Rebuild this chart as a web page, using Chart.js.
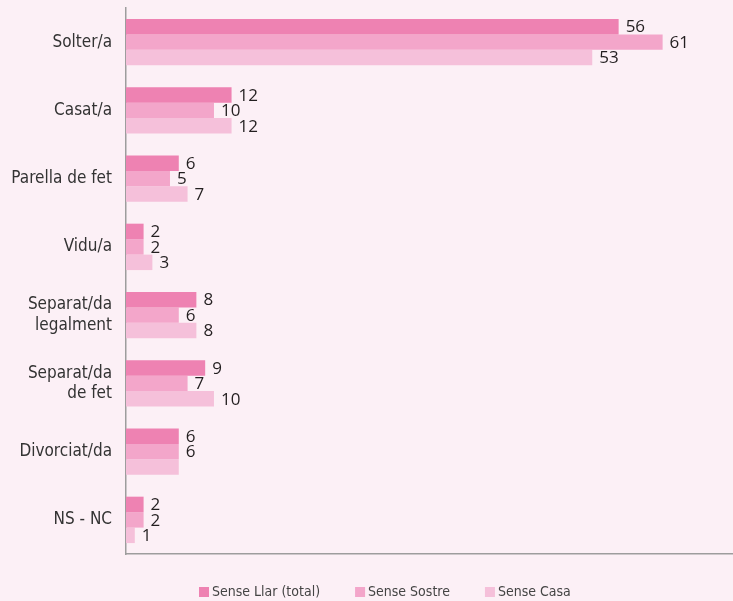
<!DOCTYPE html>
<html>
<head>
<meta charset="utf-8">
<script src="https://cdn.jsdelivr.net/npm/chart.js@4/dist/chart.umd.min.js"></script>
<style>
  html, body { margin: 0; padding: 0; background: #fcf0f6; }
  #wrap { width: 733px; height: 601px; position: relative; }
</style>
</head>
<body>
<div id="wrap"><canvas id="estatcivil"></canvas></div>
<script>
var categories = ['Solter/a', 'Casat/a', 'Parella de fet', 'Vidu/a', ['Separat/da', 'legalment'], ['Separat/da', 'de fet'], 'Divorciat/da', 'NS - NC'];
var seriesNames = ['Sense Llar (total)', 'Sense Sostre', 'Sense Casa'];
var senseLlar = [56, 12, 6, 2, 8, 9, 6, 2];
var senseSostre = [61, 10, 5, 2, 6, 7, 6, 2];
var senseCasa = [53, 12, 7, 3, 8, 10, 6, 1];
var colors = ['#ee82b2', '#f3a6ca', '#f5c0da'];
// the source leaves this one value without its number
var hiddenLabels = ['2-6'];

var fontNarrow = '"Liberation Sans Narrow", "DejaVu Sans Condensed", sans-serif';

var labelPlugin = {
    id: 'valueLabels',
    afterDatasetsDraw: function(chart) {
        var ctx = chart.ctx;
        ctx.save();
        ctx.font = '17px "Open Sans", sans-serif';
        ctx.fillStyle = '#231f20';
        ctx.textBaseline = 'middle';
        chart.data.datasets.forEach(function(ds, i) {
            chart.getDatasetMeta(i).data.forEach(function(bar, j) {
                if (hiddenLabels.indexOf(i + '-' + j) >= 0) return;
                ctx.fillText(ds.data[j], bar.x + 7, bar.y + 1);
            });
        });
        ctx.restore();
    }
};

// simple legend under the plot, wider spacing than the built-in one
var legendPlugin = {
    id: 'bottomLegend',
    afterDraw: function(chart) {
        var ctx = chart.ctx;
        ctx.save();
        ctx.font = '14px ' + fontNarrow;
        ctx.textBaseline = 'middle';
        var x = 199, y = 592;
        chart.data.datasets.forEach(function(ds) {
            ctx.fillStyle = ds.backgroundColor;
            ctx.fillRect(x, y - 5, 10, 10);
            ctx.fillStyle = '#444444';
            ctx.fillText(ds.label, x + 13, y);
            x += 13 + ctx.measureText(ds.label).width + 35;
        });
        ctx.restore();
    }
};

var ctx = document.getElementById('estatcivil').getContext('2d');
var myChart = new Chart(ctx, {
    type: 'bar',
    data: {
        labels: categories,
        datasets: [
            { label: seriesNames[0], data: senseLlar, backgroundColor: colors[0] },
            { label: seriesNames[1], data: senseSostre, backgroundColor: colors[1] },
            { label: seriesNames[2], data: senseCasa, backgroundColor: colors[2] }
        ]
    },
    options: {
        indexAxis: 'y',
        responsive: true,
        maintainAspectRatio: false,
        animation: false,
        categoryPercentage: 0.68,
        barPercentage: 1.0,
        layout: { padding: { top: 8, right: 0, left: 0, bottom: 47 } },
        scales: {
            x: {
                min: 0,
                max: 69,
                grid: { display: false },
                border: { color: '#9d9d9d', width: 1.5 },
                ticks: { display: false },
                afterFit: function(s) { s.height = 0; }
            },
            y: {
                grid: { display: false, drawTicks: false },
                border: { color: '#9d9d9d', width: 1.5 },
                ticks: {
                    color: '#333333',
                    padding: 14,
                    font: { family: fontNarrow, size: 17 }
                },
                afterFit: function(s) {
                    s.width = 126;
                    s.paddingTop = 0;
                    s.paddingBottom = 0;
                }
            }
        },
        plugins: {
            legend: { display: false },
            tooltip: { enabled: false }
        }
    },
    plugins: [labelPlugin, legendPlugin]
});
</script>
</body>
</html>
